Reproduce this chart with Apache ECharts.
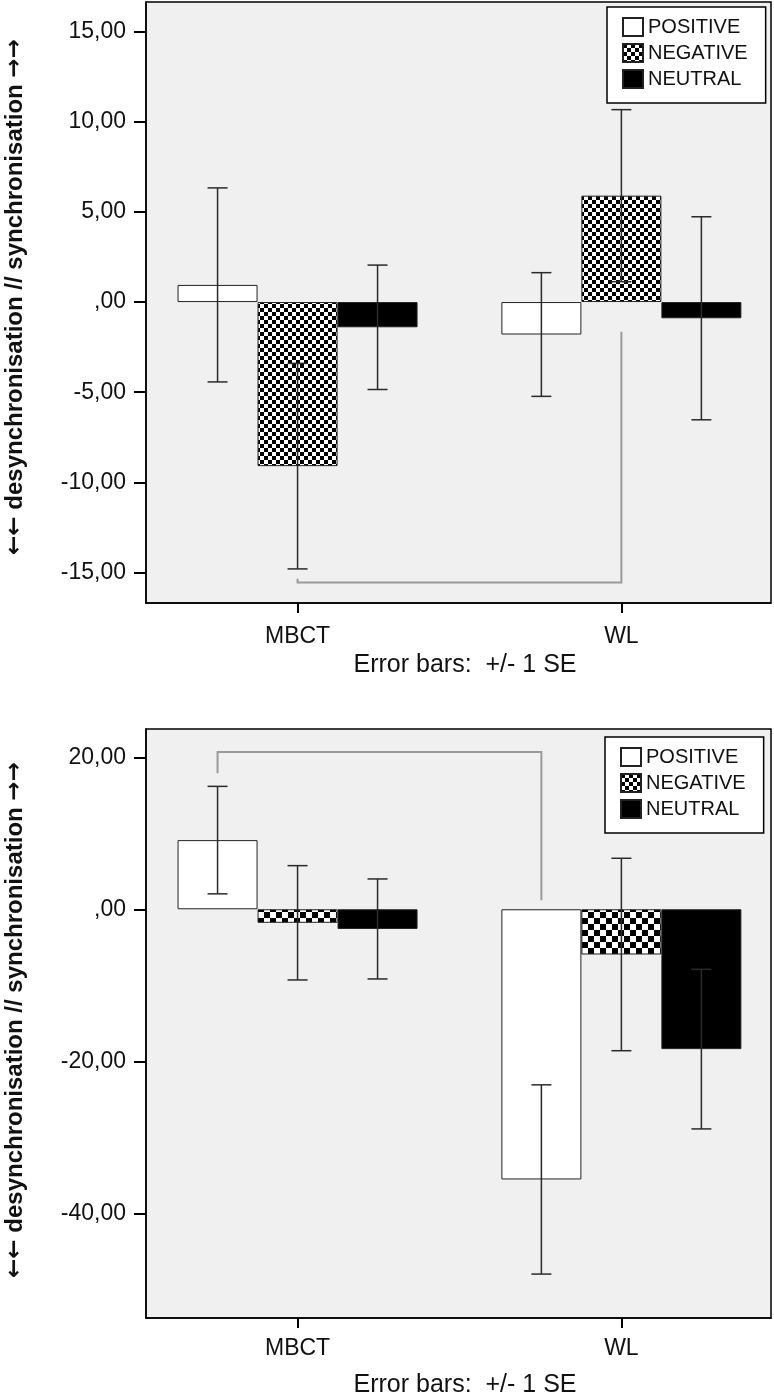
<!DOCTYPE html>
<html><head><meta charset="utf-8">
<script src="https://cdn.jsdelivr.net/npm/echarts@6/dist/echarts.min.js"></script>
<style>html,body{margin:0;padding:0;background:#fff}#c{width:774px;height:1394px}</style>
</head><body><div id="c"></div>
<script>
// ---------- data ----------
const categories = ['MBCT', 'WL'];
const seriesNames = ['POSITIVE', 'NEGATIVE', 'NEUTRAL'];

// upper panel
const topPositive = [0.95, -1.80];
const topNegative = [-9.10, 5.90];
const topNeutral  = [-1.40, -0.90];
const topPositiveSE = [5.38, 3.43];
const topNegativeSE = [5.70, 4.77];
const topNeutralSE  = [3.45, 5.63];
const topYTicks  = [15, 10, 5, 0, -5, -10, -15];
const topYLabels = ['15,00', '10,00', '5,00', ',00', '-5,00', '-10,00', '-15,00'];
const topBracket = { from: 0, to: 1, bar: 1, leftEnd: -15.35, level: -15.55, rightEnd: -1.65 };

// lower panel
const botPositive = [9.10, -35.55];
const botNegative = [-1.78, -5.95];
const botNeutral  = [-2.59, -18.40];
const botPositiveSE = [7.07, 12.45];
const botNegativeSE = [7.52, 12.66];
const botNeutralSE  = [6.58, 10.50];
const botYTicks  = [20, 0, -20, -40];
const botYLabels = [ '20,00', ',00', '-20,00', '-40,00'];
const botBracket = { from: 0, to: 1, bar: 0, leftEnd: 17.9, level: 20.7, rightEnd: 1.2 };

const errorCaption = 'Error bars:  +/- 1 SE';
const yTitleLeftArrows = '\u2190\u2190';
const yTitleText = ' desynchronisation // synchronisation ';
const yTitleRightArrows = '\u2192\u2192';

// ---------- styling / layout ----------
const FONT = "'Liberation Sans', Arial, sans-serif";
const BAR_W = 80;
const OFFSETS = [-BAR_W, 0, BAR_W];

function checker(size) {
  const c = document.createElement('canvas');
  c.width = c.height = size * 2;
  const g = c.getContext('2d');
  g.fillStyle = '#fff'; g.fillRect(0, 0, size * 2, size * 2);
  g.fillStyle = '#000';
  g.fillRect(0, 0, size, size); g.fillRect(size, size, size, size);
  return c;
}

function fills(sz) {
  return ['#ffffff', { image: checker(sz), repeat: 'repeat' }, '#000000'];
}

function bars(gi, valsList, fillList) {
  return valsList.map((vals, k) => ({
    type: 'bar', name: seriesNames[k], xAxisIndex: gi, yAxisIndex: gi,
    data: vals.map((v, i) => [i, v]),
    barWidth: BAR_W, barGap: '0%',
    itemStyle: { color: fillList[k], borderColor: '#222', borderWidth: 1 },
    emphasis: { disabled: true }, silent: true, z: 2
  }));
}

function errs(gi, valsList, seList) {
  return valsList.map((vals, k) => ({
    type: 'custom', xAxisIndex: gi, yAxisIndex: gi, silent: true, z: 5,
    data: vals.map((v, i) => [i, v - seList[k][i], v + seList[k][i]]),
    renderItem: (params, api) => {
      const x = api.value(0);
      const lo = api.coord([x, api.value(1)]);
      const hi = api.coord([x, api.value(2)]);
      const cx = lo[0] + OFFSETS[k];
      const st = { stroke: '#2a2a2a', lineWidth: 1.5 };
      return { type: 'group', children: [
        { type: 'line', shape: { x1: cx, y1: hi[1], x2: cx, y2: lo[1] }, style: st },
        { type: 'line', shape: { x1: cx - 10, y1: hi[1], x2: cx + 10, y2: hi[1] }, style: st },
        { type: 'line', shape: { x1: cx - 10, y1: lo[1], x2: cx + 10, y2: lo[1] }, style: st }
      ]};
    }
  }));
}

function bracket(gi, b) {
  return {
    type: 'custom', xAxisIndex: gi, yAxisIndex: gi, silent: true, z: 4,
    data: [[b.from, b.to, b.leftEnd, b.level, b.rightEnd]],
    renderItem: (params, api) => {
      const dx = OFFSETS[b.bar];
      const p1 = api.coord([api.value(0), api.value(2)]);
      const p2 = api.coord([api.value(0), api.value(3)]);
      const p3 = api.coord([api.value(1), api.value(3)]);
      const p4 = api.coord([api.value(1), api.value(4)]);
      return { type: 'polyline', shape: { points: [
        [p1[0] + dx, p1[1]], [p2[0] + dx, p2[1]], [p3[0] + dx, p3[1]], [p4[0] + dx, p4[1]]
      ]}, style: { stroke: '#9a9a9a', lineWidth: 2, fill: null } };
    }
  };
}

function yAxis(gi, min, max, ticks, labels) {
  return {
    type: 'value', gridIndex: gi, min, max,
    axisLine: { show: true, onZero: false, lineStyle: { color: '#000', width: 1.5 } },
    axisTick: { show: true, length: 12, customValues: ticks, lineStyle: { color: '#000', width: 2 } },
    axisLabel: { customValues: ticks, margin: 20, fontSize: 23, color: '#111', fontFamily: FONT,
      formatter: v => labels[ticks.indexOf(v)] },
    splitLine: { show: false }
  };
}

function xAxis(gi, margin) {
  return {
    type: 'value', gridIndex: gi, min: -0.468, max: 1.462,
    axisLine: { show: true, onZero: false, lineStyle: { color: '#000', width: 1.5 } },
    axisTick: { show: true, length: 10, customValues: [0, 1], lineStyle: { color: '#000', width: 2 } },
    axisLabel: { customValues: [0, 1], margin, fontSize: 23, color: '#111', fontFamily: FONT,
      formatter: v => categories[Math.round(v)] },
    splitLine: { show: false }
  };
}

function legend(left, top) {
  return {
    data: seriesNames, orient: 'vertical', left, top, selectedMode: false,
    backgroundColor: '#fff', borderColor: '#000', borderWidth: 1.5,
    padding: [10, 18, 14, 15], itemGap: 6, itemWidth: 20, itemHeight: 18, icon: 'rect',
    textStyle: { fontSize: 20, color: '#111', fontFamily: FONT, lineHeight: 18 }
  };
}

function yTitle(x, y) {
  return {
    type: 'text', x, y, rotation: Math.PI / 2, silent: true,
    style: {
      text: '{a|' + yTitleLeftArrows + '}{t|' + yTitleText + '}{a|' + yTitleRightArrows + '}',
      align: 'center', verticalAlign: 'middle',
      rich: {
        a: { font: 'bold 23px "DejaVu Sans"', fill: '#111' },
        t: { font: 'bold 24px ' + FONT, fill: '#111' }
      }
    }
  };
}

function caption(x, y) {
  return { type: 'text', x, y, silent: true,
    style: { text: errorCaption, fill: '#111', font: '25px ' + FONT, align: 'center', verticalAlign: 'middle' } };
}

const chart = echarts.init(document.getElementById('c'), null, { renderer: 'canvas' });
chart.setOption({
  animation: false,
  backgroundColor: '#fff',
  grid: [
    { left: 146, top: 2, width: 625, height: 601, show: true, backgroundColor: '#f0f0f0', borderColor: '#000', borderWidth: 1.5 },
    { left: 146, top: 729, width: 625, height: 589, show: true, backgroundColor: '#f0f0f0', borderColor: '#000', borderWidth: 1.5 }
  ],
  xAxis: [xAxis(0, 22), xAxis(1, 19)],
  yAxis: [yAxis(0, -16.69, 16.64, topYTicks, topYLabels), yAxis(1, -53.78, 23.72, botYTicks, botYLabels)],
  legend: [legend(607, 7), legend(605, 737)],
  series: [].concat(
    bars(0, [topPositive, topNegative, topNeutral], fills(4)),
    bars(1, [botPositive, botNegative, botNeutral], fills(6)),
    errs(0, [topPositive, topNegative, topNeutral], [topPositiveSE, topNegativeSE, topNeutralSE]),
    errs(1, [botPositive, botNegative, botNeutral], [botPositiveSE, botNegativeSE, botNeutralSE]),
    [bracket(0, topBracket), bracket(1, botBracket)]
  ),
  graphic: [
    yTitle(15.5, 297),
    yTitle(15.5, 1020),
    caption(465, 665),
    caption(465, 1385)
  ]
});
</script>
</body></html>
